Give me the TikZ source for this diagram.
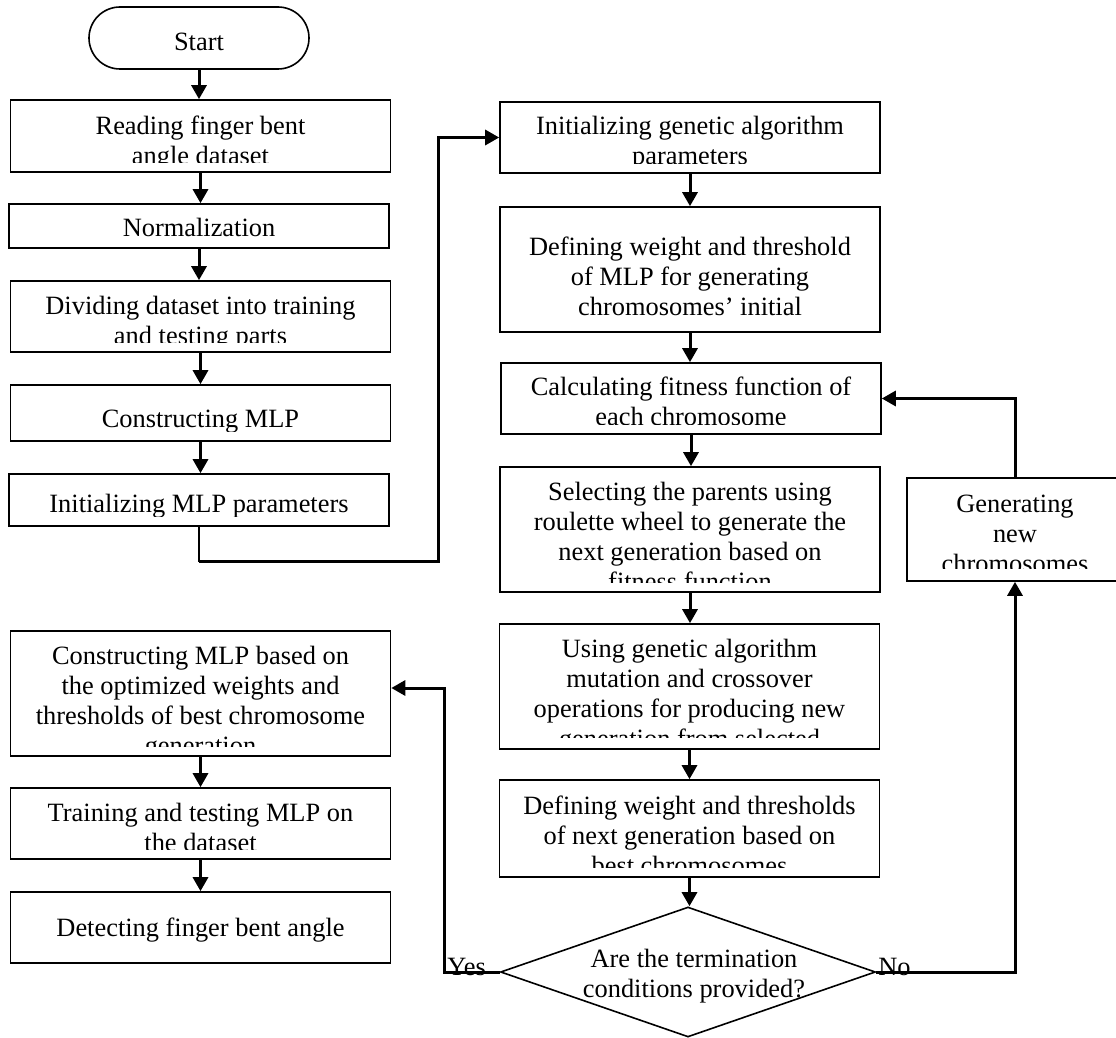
\documentclass[tikz,border=0pt]{standalone}
\usepackage{fontspec}
\setmainfont{Liberation Serif}
\usetikzlibrary{arrows.meta}
\usetikzlibrary{shapes.geometric}

% text of a box, cut off a little above its lower edge
\newcommand\boxtext[5][10.5]{%
  \begin{scope}
    \clip (#2.south west) ++(0,-#1) rectangle (#2.north east);
    \path (#2.north) ++(0,#4-21) node[txt,anchor=north] (#3) {\strut #5};
  \end{scope}}

\begin{document}
\begin{tikzpicture}[x=0.5pt,y=-0.5pt,
  box/.style={draw,line width=0.8pt,minimum width=190pt,inner sep=0},
  txt/.style={font=\fontsize{13.2pt}{15pt}\selectfont,align=center,inner sep=0},
  conn/.style={line width=1.5pt,-{Triangle[length=7pt,width=7.5pt]}}]
  \clip (0,0) rectangle (1116,1038);

  % left column
  \node[draw,line width=0.8pt,rounded corners=15.5pt,minimum width=110pt,minimum height=31pt,txt,text height=13pt,text depth=0pt] (start) at (199,38) {Start};
  \node[box,minimum height=36pt] (read) at (200.5,136) {};
  \boxtext{read}{readtxt}{35}{Reading finger bent\\angle dataset}
  \node[box,minimum height=22pt] (norm) at (199,226) {};
  \boxtext{norm}{normtxt}{33}{Normalization}
  \node[box,minimum height=35.5pt] (divide) at (200.5,316.5) {};
  \boxtext{divide}{dividetxt}{34}{Dividing dataset into training\\and testing parts}
  \node[box,minimum height=28pt] (cmlp) at (200.5,413) {};
  \boxtext{cmlp}{cmlptxt}{43}{Constructing MLP}
  \node[box,minimum height=26pt] (imlp) at (199,500) {};
  \boxtext{imlp}{imlptxt}{39}{Initializing MLP parameters}

  % right column
  \node[box,minimum height=35.5pt] (iga) at (690,137.5) {};
  \boxtext{iga}{igatxt}{33}{Initializing genetic algorithm\\parameters}
  \node[box,minimum height=62.5pt] (defw) at (690,269.5) {};
  \boxtext{defw}{defwtxt}{49}{Defining weight and threshold\\of MLP for generating\\chromosomes' initial}
  \node[box,minimum height=35.5pt] (fit) at (691,398.5) {};
  \boxtext{fit}{fittxt}{32.5}{Calculating fitness function of\\each chromosome}
  \node[box,minimum height=62.5pt] (sel) at (690,529.5) {};
  \boxtext{sel}{seltxt}{34}{Selecting the parents using\\roulette wheel to generate the\\next generation based on\\fitness function}
  \node[box,minimum height=62.5pt] (usega) at (689.5,686.5) {};
  \boxtext[12]{usega}{usegatxt}{34}{Using genetic algorithm\\mutation and crossover\\operations for producing new\\generation from selected}
  \node[box,minimum height=48.5pt] (defth) at (689.5,828.5) {};
  \boxtext{defth}{defthtxt}{35}{Defining weight and thresholds\\of next generation based on\\best chromosomes}
  \node[draw,diamond,line width=0.8pt,minimum width=187.5pt,minimum height=65pt,inner sep=0] (dia) at (688,972) {};
  \node[txt,anchor=north] (ask) at (694,946) {\strut Are the termination\\conditions provided?};
  \node[box,minimum width=108pt,minimum height=51.5pt] (gen) at (1015,529.5) {};
  \boxtext[13]{gen}{gentxt}{35}{Generating\\new\\chromosomes}

  % lower left
  \node[box,minimum height=62.5pt] (cbest) at (200.5,693.5) {};
  \boxtext{cbest}{cbesttxt}{34}{Constructing MLP based on\\the optimized weights and\\thresholds of best chromosome\\generation}
  \node[box,minimum height=35.5pt] (train) at (200.5,823.5) {};
  \boxtext{train}{traintxt}{34}{Training and testing MLP on\\the dataset}
  \node[box,minimum height=35.5pt] (detect) at (200.5,927.5) {};
  \boxtext{detect}{detecttxt}{45}{Detecting finger bent angle}

  \node[txt,anchor=base west] (yes) at (447,975) {Yes};
  \node[txt,anchor=base west] (no) at (878,975) {No};

  % arrows
  \draw[conn] (start.south) -- (start.south |- read.north);
  \draw[conn] (read.south) -- (read.south |- norm.north);
  \draw[conn] (norm.south) -- (norm.south |- divide.north);
  \draw[conn] (divide.south) -- (divide.south |- cmlp.north);
  \draw[conn] (cmlp.south) -- (cmlp.south |- imlp.north);
  \draw[line width=0.8pt] (imlp.south) -- ++(0,35) coordinate (bend);
  \draw[conn] (bend) -| ([xshift=-30.5pt]iga.west) -- (iga.west);
  \draw[conn] (iga.south) -- (iga.south |- defw.north);
  \draw[conn] (defw.south) -- (defw.south |- fit.north);
  \draw[conn] (fit.south) -- (fit.south |- sel.north);
  \draw[conn] (sel.south) -- (sel.south |- usega.north);
  \draw[conn] (usega.south) -- (usega.south |- defth.north);
  \draw[conn] (defth.south) -- (defth.south |- dia.north);
  \draw[conn] (dia.east) -| (gen.south);
  \draw[conn] (gen.north) |- (fit.east);
  \draw[conn] (dia.west) -- ++(-55,0) |- ([yshift=2.75pt]cbest.east);
  \draw[conn] (cbest.south) -- (cbest.south |- train.north);
  \draw[conn] (train.south) -- (train.south |- detect.north);

\end{tikzpicture}
\end{document}
